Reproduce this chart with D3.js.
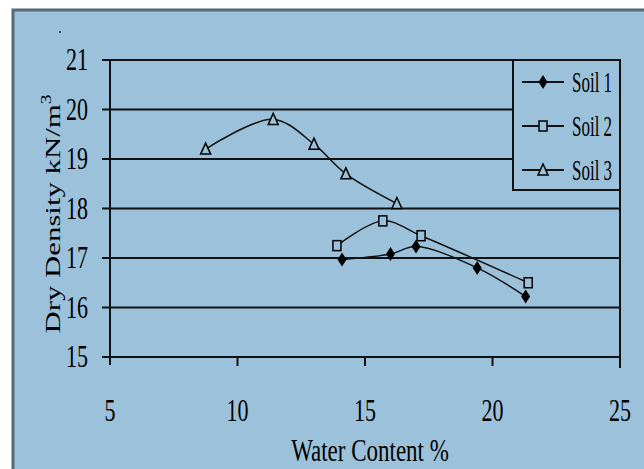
<!DOCTYPE html>
<html>
<head>
<meta charset="utf-8">
<script src="https://cdn.jsdelivr.net/npm/d3@7"></script>
<style>
  body { margin: 0; background: #fff; }
  svg text { font-family: "Liberation Serif", "Times New Roman", serif; fill: #000; }
</style>
</head>
<body>
<svg id="chart"></svg>
<script>
// values
const soilNames = ['Soil 1', 'Soil 2', 'Soil 3'];
const soil1 = [[14.1, 16.97], [16.0, 17.08], [17.0, 17.23], [19.4, 16.8], [21.3, 16.22]];
const soil2 = [[13.9, 17.25], [15.7, 17.75], [17.2, 17.45], [21.4, 16.5]];
const soil3 = [[8.75, 19.2], [11.4, 19.8], [13.0, 19.3], [14.25, 18.7], [16.25, 18.1]];
const xTicks = [5, 10, 15, 20, 25];
const yTicks = [15, 16, 17, 18, 19, 20, 21];

const config = {
  width: 644, height: 469,
  bg: '#9bc2da',
  frame: '#56697b',
  plot: { left: 110, right: 620, top: 60, bottom: 357 },
  stretch: 1.4, // source image is stretched vertically
};

const svg = d3.select('#chart')
  .attr('width', config.width)
  .attr('height', config.height);

// blue panel with its grey frame
svg.append('rect')
  .attr('x', 13).attr('y', 10)
  .attr('width', 700).attr('height', 500)
  .attr('fill', config.bg)
  .attr('stroke', config.frame)
  .attr('stroke-width', 3);

svg.append('circle').attr('cx', 60).attr('cy', 32).attr('r', 1).attr('fill', '#222');

const p = config.plot;
const x = d3.scaleLinear().domain([5, 25]).range([p.left, p.right]);
const y = d3.scaleLinear().domain([15, 21]).range([p.bottom, p.top]);

// horizontal gridlines (with left tick stubs)
svg.append('g')
  .selectAll('line')
  .data(yTicks)
  .join('line')
  .attr('x1', p.left - 8).attr('x2', p.right)
  .attr('y1', d => y(d)).attr('y2', d => y(d))
  .attr('stroke', '#111').attr('stroke-width', 2);

// left axis and right border
svg.append('line')
  .attr('x1', p.left).attr('x2', p.left)
  .attr('y1', p.top).attr('y2', p.bottom + 8)
  .attr('stroke', '#111').attr('stroke-width', 2);
svg.append('line')
  .attr('x1', p.right).attr('x2', p.right)
  .attr('y1', p.top).attr('y2', p.bottom + 11)
  .attr('stroke', '#111').attr('stroke-width', 2);

// x tick marks
svg.append('g')
  .selectAll('line')
  .data(xTicks.slice(1, -1))
  .join('line')
  .attr('x1', d => x(d)).attr('x2', d => x(d))
  .attr('y1', p.bottom).attr('y2', p.bottom + 9)
  .attr('stroke', '#111').attr('stroke-width', 2);

// tick labels
svg.append('g')
  .selectAll('text')
  .data(yTicks)
  .join('text')
  .attr('transform', d => `translate(88,${y(d)}) scale(1,${config.stretch})`)
  .attr('text-anchor', 'end')
  .attr('dominant-baseline', 'central')
  .attr('font-size', 22)
  .text(d => d);

svg.append('g')
  .selectAll('text')
  .data(xTicks)
  .join('text')
  .attr('transform', d => `translate(${x(d)},411) scale(1,${config.stretch})`)
  .attr('text-anchor', 'middle')
  .attr('dominant-baseline', 'central')
  .attr('font-size', 22)
  .text(d => d);

// axis titles
svg.append('text')
  .attr('transform', `translate(370,450) scale(1,${config.stretch})`)
  .attr('text-anchor', 'middle')
  .attr('dominant-baseline', 'central')
  .attr('font-size', 23)
  .text('Water Content %');

const yTitle = svg.append('text')
  .attr('transform', `translate(53,214) rotate(-90) scale(${config.stretch},1)`)
  .attr('text-anchor', 'middle')
  .attr('dominant-baseline', 'central')
  .attr('font-size', 22);
yTitle.append('tspan').text('Dry Density kN/m');
yTitle.append('tspan').attr('dy', -7).attr('font-size', 14).text('3');

// legend box (drawn over gridlines)
svg.append('rect')
  .attr('x', 513).attr('y', p.top)
  .attr('width', p.right - 513).attr('height', 130)
  .attr('fill', config.bg)
  .attr('stroke', '#111').attr('stroke-width', 2);

// marker drawing
function drawMarker(g, kind) {
  if (kind === 0) {
    g.append('path')
      .attr('d', 'M0,-7 L4.5,0 L0,7 L-4.5,0 Z')
      .attr('fill', '#000');
  } else if (kind === 1) {
    g.append('rect')
      .attr('x', -4).attr('y', -5).attr('width', 8).attr('height', 10)
      .attr('fill', config.bg).attr('stroke', '#000').attr('stroke-width', 1.5);
  } else {
    g.append('path')
      .attr('d', 'M0,-6 L5,5 L-5,5 Z')
      .attr('fill', config.bg).attr('stroke', '#000').attr('stroke-width', 1.5);
  }
}

const series = [soil1, soil2, soil3];
const line = d3.line()
  .x(d => x(d[0]))
  .y(d => y(d[1]))
  .curve(d3.curveCatmullRom.alpha(0.5));

series.forEach((data, i) => {
  svg.append('path')
    .datum(data)
    .attr('d', line)
    .attr('fill', 'none')
    .attr('stroke', '#111')
    .attr('stroke-width', 1.5);
});

series.forEach((data, i) => {
  svg.append('g')
    .selectAll('g')
    .data(data)
    .join('g')
    .attr('transform', d => `translate(${x(d[0])},${y(d[1])})`)
    .each(function () { drawMarker(d3.select(this), i); });
});

// legend entries
const legendY = [82, 126, 170];
soilNames.forEach((name, i) => {
  const item = svg.append('g').attr('transform', `translate(0,${legendY[i]})`);
  item.append('line')
    .attr('x1', 522).attr('x2', 564)
    .attr('stroke', '#111').attr('stroke-width', 2);
  const m = item.append('g').attr('transform', 'translate(543,0)');
  drawMarker(m, i);
  item.append('text')
    .attr('transform', `translate(572,0) scale(1,1.7)`)
    .attr('dominant-baseline', 'central')
    .attr('font-size', 17)
    .text(name);
});
</script>
</body>
</html>
